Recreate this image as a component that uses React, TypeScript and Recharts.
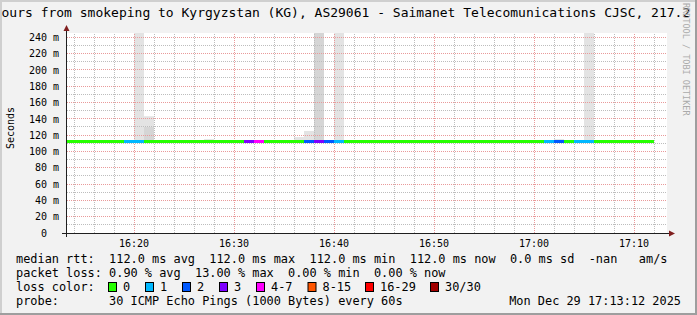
import React from "react";
import { ComposedChart, Bar, Scatter, XAxis, YAxis, CartesianGrid, ReferenceLine } from "recharts";

// ---- data ----
const times = [
  "16:13", "16:14", "16:15", "16:16", "16:17", "16:18", "16:19", "16:20", "16:21", "16:22",
  "16:23", "16:24", "16:25", "16:26", "16:27", "16:28", "16:29", "16:30", "16:31", "16:32",
  "16:33", "16:34", "16:35", "16:36", "16:37", "16:38", "16:39", "16:40", "16:41", "16:42",
  "16:43", "16:44", "16:45", "16:46", "16:47", "16:48", "16:49", "16:50", "16:51", "16:52",
  "16:53", "16:54", "16:55", "16:56", "16:57", "16:58", "16:59", "17:00", "17:01", "17:02",
  "17:03", "17:04", "17:05", "17:06", "17:07", "17:08", "17:09", "17:10", "17:11",
];

// median rtt in ms
const medianRtt = [
  112, 112, 112, 112, 112, 112, 112, 112, 112, 112,
  112, 112, 112, 112, 112, 112, 112, 112, 112, 112,
  112, 112, 112, 112, 112, 112, 112, 112, 112, 112,
  112, 112, 112, 112, 112, 112, 112, 112, 112, 112,
  112, 112, 112, 112, 112, 112, 112, 112, 112, 112,
  112, 112, 112, 112, 112, 112, 112, 112, 112,
];

// lost pings out of 30
const lossPings = [
  0, 0, 0, 0, 0, 0, 1, 1, 0, 0,
  0, 0, 0, 0, 0, 0, 0, 0, 3, 4,
  0, 0, 0, 0, 2, 3, 2, 1, 0, 0,
  0, 0, 0, 0, 0, 0, 0, 0, 0, 0,
  0, 0, 0, 0, 0, 0, 0, 0, 1, 2,
  0, 1, 1, 0, 0, 0, 0, 0, 0,
];

// smoke: upper edge of the dense (darker) part, ms
const smokeInnerTop: (number | null)[] = [
  null, null, null, null, null, null, null, null, 130, null,
  null, null, null, null, null, null, null, null, null, null,
  null, null, null, null, null, 250, null, null, null, null,
  null, null, null, null, null, null, null, null, null, null,
  null, null, null, null, null, null, null, null, null, null,
  null, null, null, null, null, null, null, null, null,
];

// smoke: upper edge of the sparse (lighter) part, ms
const smokeOuterTop: (number | null)[] = [
  null, null, null, null, null, null, null, 250, 143, null,
  null, null, null, null, 115, null, null, null, null, null,
  null, null, null, 117.5, 125, null, null, 250, null, null,
  null, null, null, null, null, null, null, null, null, null,
  null, null, null, null, null, null, null, null, null, 115,
  null, null, 250, null, null, null, null, null, null,
];

const xTicks = [20, 30, 40, 50, 60, 70];
const xTickLabels = ["16:20", "16:30", "16:40", "16:50", "17:00", "17:10"];
const xMinorGrid = [14, 16, 18, 22, 24, 26, 28, 32, 34, 36, 38, 42, 44, 46, 48, 52, 54, 56, 58, 62, 64, 66, 68, 72];
const yTicks = [0, 20, 40, 60, 80, 100, 120, 140, 160, 180, 200, 220, 240];
const yMinorGrid = [10, 30, 50, 70, 90, 110, 130, 150, 170, 190, 210, 230];

const lossLegend = ["0", "1", "2", "3", "4-7", "8-15", "16-29", "30/30"];
const lossColors = ["#26ff00", "#00b8ff", "#0059ff", "#7e00ff", "#ff00ff", "#ff5500", "#ff0000", "#a10000"];

const titleText = "ours from smokeping to Kyrgyzstan (KG), AS29061 - Saimanet Telecomunications CJSC, 217.2";
const legendRtt = "median rtt:  112.0 ms avg  112.0 ms max  112.0 ms min  112.0 ms now  0.0 ms sd  -nan   am/s";
const legendLoss = "packet loss: 0.90 % avg  13.00 % max  0.00 % min  0.00 % now";
const legendProbe = "probe:       30 ICMP Echo Pings (1000 Bytes) every 60s";
const legendDate = "Mon Dec 29 17:13:12 2025";

// ---- helpers ----
const MONO = "'DejaVu Sans Mono', monospace";
const toMin = (s: string) => {
  const [h, m] = s.split(":").map(Number);
  return (h - 16) * 60 + m;
};
const lossBucket = (n: number) =>
  n === 0 ? 0 : n === 1 ? 1 : n === 2 ? 2 : n === 3 ? 3 : n <= 7 ? 4 : n <= 15 ? 5 : n <= 29 ? 6 : 7;

const rows = times.map((tm, i) => {
  const med = medianRtt[i];
  const inner = smokeInnerTop[i];
  const outer = smokeOuterTop[i];
  const has = inner != null || outer != null;
  return {
    t: toMin(tm) + 0.5,
    median: med,
    loss: lossPings[i],
    base: has ? med : 0,
    inner: inner != null ? inner - med : 0,
    outer: outer != null ? outer - (inner ?? med) : 0,
  };
});

const MedianSeg = (p: any) => {
  const { cx, cy, payload } = p;
  if (cx == null || cy == null) return null;
  return (
    <rect
      x={cx - 5}
      y={Math.round(cy - 1.5)}
      width={10}
      height={3}
      fill={lossColors[lossBucket(payload.loss)]}
    />
  );
};

const XTick = (p: any) => {
  const { x, y, payload } = p;
  const idx = xTicks.indexOf(payload.value);
  return (
    <text x={x} y={y} dy={5.5} textAnchor="middle" fontFamily={MONO} fontSize={10} fill="#000">
      {idx >= 0 ? xTickLabels[idx] : ""}
    </text>
  );
};

const YTick = (p: any) => {
  const { x, y, payload } = p;
  const v = payload.value;
  const label = v === 0 ? "0  " : `${v} m`;
  return (
    <text
      x={x}
      y={y}
      dy={3.8}
      textAnchor="end"
      fontFamily={MONO}
      fontSize={10}
      fill="#000"
      xmlSpace="preserve"
      style={{ whiteSpace: "pre" }}
    >
      {label}
    </text>
  );
};

const boxX = [108, 145, 182, 219, 256, 307.5, 365, 430];

export default function App() {
  return (
    <div
      style={{
        position: "absolute",
        left: 0,
        top: 0,
        width: 697,
        height: 315,
        background: "#f2f2f2",
        overflow: "hidden",
      }}
    >
      <ComposedChart
        width={697}
        height={315}
        data={rows}
        margin={{ top: 33, right: 30, bottom: 52, left: 7 }}
        barCategoryGap={0}
        barGap={0}
      >
        <CartesianGrid fill="#ffffff" horizontal={false} vertical={false} />
        <XAxis
          type="number"
          dataKey="t"
          domain={[13.3, 73.3]}
          ticks={xTicks}
          interval={0}
          tick={<XTick />}
          tickLine={false}
          axisLine={false}
          height={30}
          allowDataOverflow
        />
        <YAxis
          type="number"
          domain={[0, 245]}
          ticks={yTicks}
          interval={0}
          tick={<YTick />}
          tickLine={false}
          axisLine={false}
          width={60}
          allowDataOverflow
        />
        <Bar dataKey="base" stackId="s" fill="transparent" isAnimationActive={false} />
        <Bar dataKey="inner" stackId="s" fill="#d5d5d5" isAnimationActive={false} />
        <Bar dataKey="outer" stackId="s" fill="#e3e3e3" isAnimationActive={false} />
        {yMinorGrid.map((v) => (
          <ReferenceLine key={"ym" + v} y={v} stroke="#bdbdbd" strokeDasharray="1 1" shapeRendering="crispEdges" />
        ))}
        {xMinorGrid.map((v) => (
          <ReferenceLine key={"xm" + v} x={v} stroke="#bdbdbd" strokeDasharray="1 1" shapeRendering="crispEdges" />
        ))}
        {yTicks.filter((v) => v > 0).map((v) => (
          <ReferenceLine key={"yM" + v} y={v} stroke="#e99a9a" strokeDasharray="1 1" shapeRendering="crispEdges" />
        ))}
        {xTicks.map((v) => (
          <ReferenceLine key={"xM" + v} x={v} stroke="#e99a9a" strokeDasharray="1 1" shapeRendering="crispEdges" />
        ))}
        <Scatter dataKey="median" shape={MedianSeg} isAnimationActive={false} />
      </ComposedChart>

      <svg
        width={697}
        height={315}
        style={{ position: "absolute", left: 0, top: 0, pointerEvents: "none" }}
      >
        {/* frame */}
        <rect x={0} y={0} width={697} height={2} fill="#cfcfcf" />
        <rect x={0} y={0} width={2} height={315} fill="#cfcfcf" />
        <rect x={695} y={0} width={2} height={315} fill="#9e9e9e" />
        <rect x={0} y={313} width={697} height={2} fill="#9e9e9e" />

        {/* title */}
        <text x={1.5} y={17.3} fontFamily={MONO} fontSize={13} fill="#000" xmlSpace="preserve" style={{ whiteSpace: "pre" }}>
          {titleText}
        </text>

        {/* watermark */}
        <text
          transform="translate(682.5,3) rotate(90)"
          fontFamily={MONO}
          fontSize={8.5}
          fill="#aaaaaa"
        >
          RRDTOOL / TOBI OETIKER
        </text>

        {/* unit */}
        <text
          transform="translate(13.5,128) rotate(-90)"
          textAnchor="middle"
          fontFamily={MONO}
          fontSize={10}
          fill="#000"
        >
          Seconds
        </text>

        {/* axes */}
        <line x1={62} y1={233.5} x2={670} y2={233.5} stroke="#1f1f1f" strokeWidth={1} />
        <polygon points="669,230.5 675,233.5 669,236.5" fill="#801f1f" />
        <line x1={66.5} y1={237} x2={66.5} y2={30} stroke="#1f1f1f" strokeWidth={1} />
        <polygon points="63.5,31 66.5,25 69.5,31" fill="#801f1f" />

        {/* legend */}
        <g fontFamily={MONO} fontSize={11.9} fill="#000">
          <text x={16} y={263.3} xmlSpace="preserve" style={{ whiteSpace: "pre" }}>{legendRtt}</text>
          <text x={16} y={277.3} xmlSpace="preserve" style={{ whiteSpace: "pre" }}>{legendLoss}</text>
          <text x={16} y={291.3}>loss color:</text>
          {lossLegend.map((lab, i) => (
            <g key={lab}>
              <rect x={boxX[i] + 0.5} y={282.5} width={8} height={9} fill={lossColors[i]} stroke="#000" strokeWidth={1} />
              <text x={boxX[i] + 15} y={291.3}>{lab}</text>
            </g>
          ))}
          <text x={16} y={305.3} xmlSpace="preserve" style={{ whiteSpace: "pre" }}>{legendProbe}</text>
          <text x={681} y={305.3} textAnchor="end">{legendDate}</text>
        </g>
      </svg>
    </div>
  );
}
